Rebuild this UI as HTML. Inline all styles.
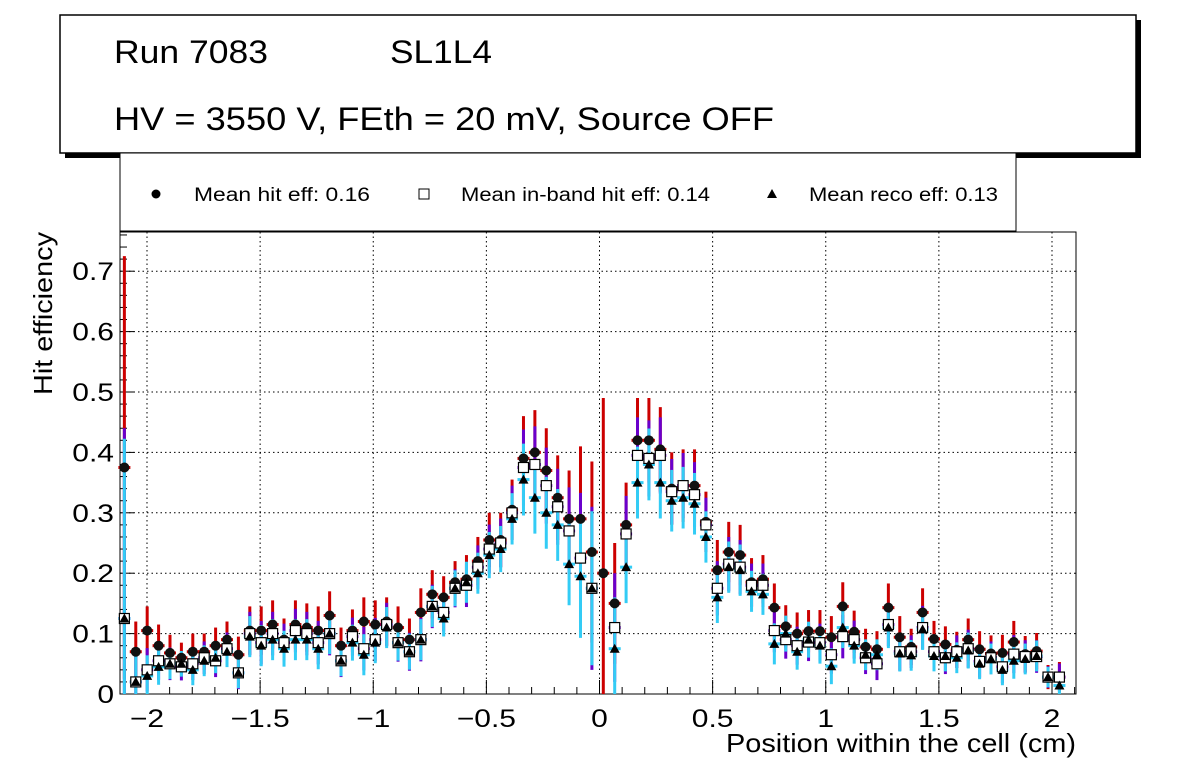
<!DOCTYPE html>
<html><head><meta charset="utf-8"><style>
body{margin:0;background:#fff;}
svg{display:block;font-family:"Liberation Sans",sans-serif;}
</style></head><body>
<svg id="c" width="1196" height="772">
<rect x="65" y="20" width="1076" height="138" fill="#000"/>
<rect x="60" y="15" width="1076" height="138" fill="#fff" stroke="#000" stroke-width="1.5"/>
<text x="114" y="63" font-size="32" textLength="154" lengthAdjust="spacingAndGlyphs">Run 7083</text>
<text x="390" y="63" font-size="32" textLength="102" lengthAdjust="spacingAndGlyphs">SL1L4</text>
<text x="114" y="130" font-size="32" textLength="660" lengthAdjust="spacingAndGlyphs">HV = 3550 V, FEth = 20 mV, Source OFF</text>
<rect x="120" y="153" width="896" height="78" fill="#fff" stroke="#000" stroke-width="1"/>
<g><circle cx="156" cy="194" r="4.5" fill="#000"/><text x="194" y="201" font-size="19" textLength="176" lengthAdjust="spacingAndGlyphs">Mean hit  eff: 0.16</text></g>
<g><rect x="419" y="189" width="10" height="10" fill="#fff" stroke="#000"/><text x="461" y="201" font-size="19" textLength="249" lengthAdjust="spacingAndGlyphs">Mean in-band hit eff: 0.14</text></g>
<g><polygon points="772,189 777,198 767,198" fill="#000"/><text x="809" y="201" font-size="19" textLength="189" lengthAdjust="spacingAndGlyphs">Mean reco eff: 0.13</text></g>
<g id="plot"></g>
</svg>
<script>
const hitEff=[0.375,0.07,0.105,0.08,0.068,0.06,0.07,0.07,0.08,0.09,0.065,0.105,0.105,0.115,0.09,0.115,0.11,0.105,0.13,0.08,0.105,0.12,0.115,0.12,0.11,0.09,0.135,0.165,0.16,0.185,0.19,0.22,0.255,0.255,0.305,0.39,0.40,0.37,0.325,0.29,0.29,0.235,0.20,0.15,0.28,0.42,0.42,0.405,0.34,0.345,0.345,0.285,0.205,0.235,0.23,0.185,0.19,0.143,0.112,0.10,0.104,0.104,0.094,0.145,0.103,0.078,0.074,0.143,0.094,0.078,0.135,0.091,0.082,0.073,0.09,0.074,0.067,0.068,0.086,0.066,0.071,0.028,0.028];
const inbandEff=[0.125,0.02,0.04,0.055,0.05,0.045,0.05,0.06,0.055,0.075,0.035,0.1,0.085,0.1,0.085,0.105,0.1,0.085,0.1,0.055,0.095,0.075,0.09,0.115,0.085,0.07,0.09,0.145,0.135,0.175,0.18,0.21,0.24,0.25,0.30,0.375,0.38,0.345,0.31,0.27,0.225,0.175,null,0.11,0.265,0.395,0.39,0.395,0.335,0.345,0.33,0.28,0.175,0.215,0.21,0.18,0.18,0.105,0.09,0.08,0.086,0.085,0.065,0.095,0.09,0.06,0.05,0.115,0.07,0.07,0.11,0.07,0.06,0.07,0.075,0.054,0.06,0.045,0.066,0.062,0.062,0.028,0.028];
const recoEff=[0.125,0.02,0.03,0.045,0.05,0.05,0.04,0.055,0.06,0.07,0.035,0.095,0.08,0.09,0.075,0.09,0.09,0.075,0.1,0.055,0.085,0.065,0.085,0.11,0.085,0.07,0.09,0.145,0.125,0.175,0.185,0.20,0.23,0.24,0.29,0.355,0.325,0.30,0.28,0.215,0.195,0.175,null,0.075,0.21,0.35,0.38,0.35,0.32,0.325,0.315,0.26,0.16,0.21,0.205,0.17,0.165,0.083,0.10,0.07,0.09,0.08,0.046,0.11,0.08,0.065,0.065,0.11,0.067,0.064,0.107,0.063,0.063,0.06,0.072,0.05,0.058,0.04,0.055,0.058,0.063,0.028,0.014];
const errs=[0.35,0.05,0.04,0.035,0.03,0.025,0.03,0.03,0.03,0.03,0.03,0.04,0.04,0.04,0.035,0.04,0.04,0.04,0.04,0.03,0.035,0.04,0.04,0.04,0.035,0.035,0.04,0.04,0.035,0.035,0.04,0.04,0.045,0.045,0.05,0.07,0.07,0.07,0.07,0.08,0.12,0.15,0.29,0.1,0.07,0.07,0.07,0.07,0.06,0.06,0.06,0.05,0.05,0.05,0.05,0.04,0.04,0.04,0.035,0.035,0.035,0.035,0.035,0.04,0.035,0.03,0.03,0.04,0.035,0.03,0.04,0.03,0.03,0.03,0.035,0.03,0.03,0.03,0.035,0.03,0.03,0.02,0.025];
const xStart=-2.1, xStep=0.0504;
const xTicks=[-2,-1.5,-1,-0.5,0,0.5,1,1.5,2];
const xTickLabels=["\u22122","\u22121.5","\u22121","\u22120.5","0","0.5","1","1.5","2"];
const yTicks=[0,0.1,0.2,0.3,0.4,0.5,0.6,0.7];
const yTickLabels=["0","0.1","0.2","0.3","0.4","0.5","0.6","0.7"];

const L=120,R=1076,T=232,B=694;
const X=v=>599.5+v*226.25;
const Y=v=>B-v*604;
const NS="http://www.w3.org/2000/svg";
const g=document.getElementById('plot');
function mk(tag,attrs,parent){const e=document.createElementNS(NS,tag);for(const k in attrs)e.setAttribute(k,attrs[k]);(parent||g).appendChild(e);return e;}

mk('rect',{x:L,y:T,width:R-L,height:B-T,fill:'#fff',stroke:'#000','stroke-width':1});
xTicks.forEach(v=>{const l=mk('line',{x1:X(v),x2:X(v),y1:T,y2:B,stroke:'#000','stroke-dasharray':'1.5,3','stroke-width':1});

});
yTicks.slice(1).forEach(v=>{const l=mk('line',{x1:L,x2:R,y1:Y(v),y2:Y(v),stroke:'#000','stroke-dasharray':'1.5,3','stroke-width':1});

});
for(let i=-21;i<=21;i++){const v=i/10;const xx=X(v);if(xx<L||xx>R)continue;const maj=(i%5===0);
mk('line',{x1:xx,x2:xx,y1:B,y2:B-(maj?14:7),stroke:'#000'});}
xTicks.forEach((v,i)=>{const t=mk('text',{x:0,y:0,'font-size':25,'text-anchor':'middle',transform:`translate(${X(v)},727) scale(1.2,1)`});t.textContent=xTickLabels[i];

});
for(let i=0;i<=38;i++){const v=i*0.02;const yy=Y(v);if(yy<T)continue;const maj=(i%5===0);
mk('line',{x1:L,x2:L+(maj?14:7),y1:yy,y2:yy,stroke:'#000'});}
yTicks.forEach((v,i)=>{const t=mk('text',{x:0,y:0,'font-size':25,'text-anchor':'end',transform:`translate(114,${Y(v)+9}) scale(1.2,1)`});t.textContent=yTickLabels[i];

});
const yt=mk('text',{x:0,y:0,'font-size':26,'text-anchor':'end',textLength:163,lengthAdjust:'spacingAndGlyphs',transform:'translate(52,232) rotate(-90)'});yt.textContent='Hit efficiency';


const xt=mk('text',{x:726,y:752,'font-size':26,textLength:350,lengthAdjust:'spacingAndGlyphs'});xt.textContent='Position within the cell (cm)';



function clipY(y){return Math.max(T,Math.min(B,y));}
function errBars(vals,scale,color){vals.forEach((v,k)=>{if(v===null)return;const x=X(xStart+k*xStep);const e=errs[k]*scale;
const l=mk('line',{x1:x,x2:x,y1:clipY(Y(v+e)),y2:clipY(Y(v-e)),stroke:color,'stroke-width':3});


mk('line',{x1:x-6,x2:x+6,y1:Y(v),y2:Y(v),stroke:color,'stroke-width':3});});}
errBars(hitEff,1,'#cc0000');
errBars(inbandEff,0.9,'#6a00cc');
errBars(recoEff,0.85,'#33ccf5');
hitEff.forEach((v,k)=>{if(v===null)return;const c=mk('circle',{cx:X(xStart+k*xStep),cy:Y(v),r:5,fill:'#111'});

});
inbandEff.forEach((v,k)=>{if(v===null)return;const r=mk('rect',{x:X(xStart+k*xStep)-5,y:Y(v)-5,width:10,height:10,fill:'#fff',stroke:'#000','stroke-width':1.2});

});
recoEff.forEach((v,k)=>{if(v===null)return;const x=X(xStart+k*xStep),y=Y(v);
const p=mk('polygon',{points:`${x},${y-5} ${x+5},${y+4} ${x-5},${y+4}`,fill:'#000'});

});
</script>
</body></html>
